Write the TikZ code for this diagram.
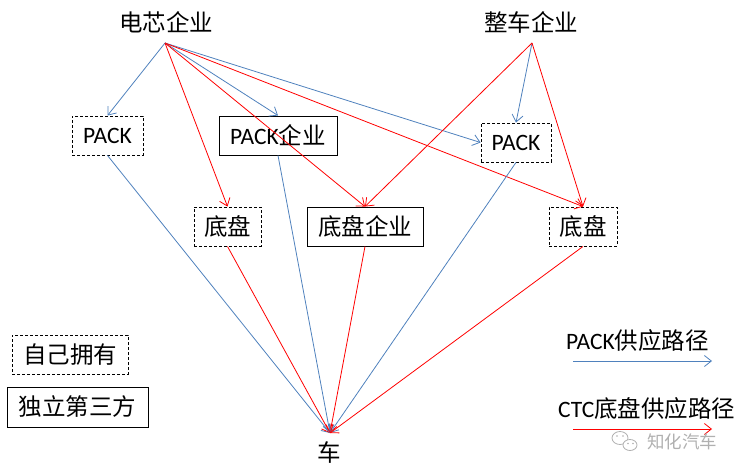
\documentclass[tikz,border=0pt]{standalone}
\usepackage{fontspec}
\setmainfont{Carlito}
\newfontfamily\cjk{Noto Sans CJK SC}
\usetikzlibrary{arrows.meta}
\definecolor{pblue}{HTML}{4F81BD}
\definecolor{cred}{HTML}{FF0000}
\definecolor{wgray}{HTML}{B0B0B0}
\begin{document}
\begin{tikzpicture}[x=1pt,y=-1pt,
  lbl/.style={font=\fontsize{23.5}{26}\selectfont, inner sep=0pt},
  own/.style={lbl, draw, line width=0.9pt, dash pattern=on 3pt off 2pt},
  third/.style={lbl, draw, line width=0.9pt},
  tip/.style={-{Straight Barb[length=7pt,width=11pt,line width=0.8pt]}},
  parr/.style={draw=pblue, line width=0.8pt, tip},
  carr/.style={draw=cred, line width=0.8pt, tip}]
\useasboundingbox (0,0) rectangle (743,474);

% top sources
\node[lbl] (cell) at (166,22) {\cjk 电芯企业};
\node[lbl] (oem) at (531,22) {\cjk 整车企业};
\coordinate (cellO) at (165,43);
\coordinate (oemO) at (532,43);

% boxes
\node[own, minimum width=71pt, minimum height=39pt] (packA) at (107.5,135.5) {PACK};
\node[third, minimum width=118pt, minimum height=39pt] (packB) at (278,135.5) {PACK{\cjk 企业}};
\node[own, minimum width=70pt, minimum height=39pt] (packC) at (516,142.5) {PACK};
\node[own, minimum width=67pt, minimum height=39pt] (chA) at (227.5,226.5) {\cjk 底盘};
\node[third, minimum width=116pt, minimum height=39pt] (chB) at (365,226.5) {\cjk 底盘企业};
\node[own, minimum width=68pt, minimum height=39pt] (chC) at (583,226.5) {\cjk 底盘};

% car
\node[lbl] (car) at (329,453) {\cjk 车};
\coordinate (carI) at (330,433);

% legend boxes
\node[own, minimum width=116pt, minimum height=39pt] (ownbox) at (70,354.5) {\cjk 自己拥有};
\node[third, minimum width=141pt, minimum height=40pt] (thirdbox) at (77.5,407) {\cjk 独立第三方};

% arrows from cell maker
\draw[parr] (cellO) -- (packA.north);
\draw[carr] (cellO) -- (chA.north);
\draw[parr] (cellO) -- (packB.north);
\draw[carr] (cellO) -- (chB.north);
\draw[parr] (cellO) -- (packC.west);
\draw[carr] (cellO) -- (chC.north);

% arrows from OEM
\draw[parr] (oemO) -- (packC.north);
\draw[carr] (oemO) -- (chB.north);
\draw[carr] (oemO) -- (chC.north);

% arrows to car
\draw[parr] (packA.south) -- (carI);
\draw[carr] (chA.south) -- (carI);
\draw[parr] (packB.south) -- (carI);
\draw[carr] (chB.south) -- (carI);
\draw[parr] (packC.south) -- (carI);
\draw[carr] (chC.south) -- (carI);

% legend
\node[lbl, anchor=west] (lp) at (566,341) {PACK{\cjk 供应路径}};
\coordinate (lpA) at (573,361);
\coordinate (lpB) at (712,361);
\draw[parr] (lpA) -- (lpB);
\node[lbl, anchor=west] (lc) at (558,409) {CTC{\cjk 底盘供应路径}};
\coordinate (lcA) at (573,429);
\coordinate (lcB) at (712,429);
\draw[carr] (lcA) -- (lcB);

% watermark
\node[inner sep=0pt, text=wgray, font=\fontsize{17.5}{20}\selectfont, anchor=west] (wm) at (647,442) {\cjk 知化汽车};
\draw[wgray, line width=0.8pt] (620,438) ellipse (8pt and 6.5pt);
\draw[wgray, line width=0.8pt, fill=white] (630,445) ellipse (7pt and 5.5pt);
\fill[wgray] (617,436) circle (0.9pt) (623,436) circle (0.9pt) (628,443.5) circle (0.8pt) (633,443.5) circle (0.8pt);
\end{tikzpicture}
\end{document}
